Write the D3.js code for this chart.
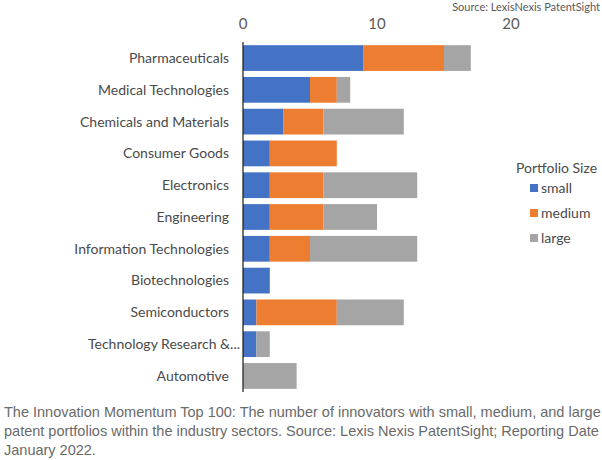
<!DOCTYPE html>
<html lang="en">
<head>
<meta charset="utf-8">
<title>Innovation Momentum Top 100</title>
<script src="https://d3js.org/d3.v7.min.js"></script>
<style>
  body { margin: 0; padding: 0; background: #fff; }
  svg { display: block; }
  .lato { font-family: Lato, "Open Sans", sans-serif; }
  .caption { font-family: "Liberation Sans", Arial, sans-serif; font-size: 14.5px; fill: #6a6a6a; }
</style>
</head>
<body>
<div id="chart"></div>
<script>
  // categories top to bottom
  const sectors = ["Pharmaceuticals", "Medical Technologies", "Chemicals and Materials",
    "Consumer Goods", "Electronics", "Engineering", "Information Technologies",
    "Biotechnologies", "Semiconductors", "Technology Research &...", "Automotive"];
  const small  = [9, 5, 3, 2, 2, 2, 2, 2, 1, 1, 0];
  const medium = [6, 2, 3, 5, 4, 4, 3, 0, 6, 0, 0];
  const large  = [2, 1, 6, 0, 7, 4, 8, 0, 5, 1, 4];
  const seriesNames = ["small", "medium", "large"];
  const colors = ["#4472c4", "#ed7d31", "#a5a5a5"];
  const xTicks = [0, 10, 20];

  const W = 602, H = 460;
  const svg = d3.select("#chart").append("svg").attr("width", W).attr("height", H);

  const rows = sectors.map((s, i) => ({ sector: s, small: small[i], medium: medium[i], large: large[i] }));
  const stacked = d3.stack().keys(seriesNames)(rows);

  const x = d3.scaleLinear().domain([0, 20]).range([243, 511]);
  const y = d3.scaleBand().domain(sectors).range([42, 392]).paddingInner(0.19).paddingOuter(0.1);

  // bars
  svg.append("g").selectAll("g")
    .data(stacked)
    .join("g")
    .attr("fill", (d, i) => colors[i])
    .selectAll("rect")
    .data(d => d)
    .join("rect")
    .attr("x", d => x(d[0]))
    .attr("y", d => y(d.data.sector))
    .attr("width", d => x(d[1]) - x(d[0]))
    .attr("height", y.bandwidth());

  // vertical axis line
  svg.append("line")
    .attr("x1", x(0)).attr("x2", x(0))
    .attr("y1", 42).attr("y2", 392)
    .attr("stroke", "#1a1a1a").attr("stroke-width", 1.2);

  // top tick labels
  svg.append("g").selectAll("text")
    .data(xTicks)
    .join("text")
    .attr("class", "lato")
    .attr("x", d => x(d))
    .attr("y", 29)
    .attr("text-anchor", "middle")
    .attr("font-size", 15)
    .attr("fill", "#595959")
    .text(d => d);

  // category labels (the truncated one runs a bit further right)
  svg.append("g").selectAll("text")
    .data(sectors)
    .join("text")
    .attr("class", "lato")
    .attr("x", d => d.endsWith("...") ? 240 : 229)
    .attr("y", d => y(d) + y.bandwidth() / 2)
    .attr("dy", "0.35em")
    .attr("text-anchor", "end")
    .attr("font-size", 14)
    .attr("fill", "#4a4a4a")
    .text(d => d);

  // source note
  svg.append("text")
    .attr("class", "lato")
    .attr("x", 600).attr("y", 11)
    .attr("text-anchor", "end")
    .attr("font-size", 11)
    .attr("fill", "#595959")
    .text("Source: LexisNexis PatentSight");

  // legend
  const legend = svg.append("g").attr("class", "lato");
  legend.append("text")
    .attr("x", 516).attr("y", 173)
    .attr("font-size", 14)
    .attr("fill", "#4a4a4a")
    .text("Portfolio Size");
  const items = legend.selectAll("g.item")
    .data(seriesNames)
    .join("g")
    .attr("class", "item")
    .attr("transform", (d, i) => `translate(530, ${188 + i * 25})`);
  items.append("rect")
    .attr("x", 0).attr("y", -4)
    .attr("width", 8).attr("height", 8)
    .attr("fill", (d, i) => colors[i]);
  items.append("text")
    .attr("x", 11).attr("y", 0)
    .attr("dy", "0.35em")
    .attr("font-size", 14)
    .attr("fill", "#4a4a4a")
    .text(d => d);

  // caption
  const captionLines = [
    "The Innovation Momentum Top 100: The number of innovators with small, medium, and large",
    "patent portfolios within the industry sectors. Source: Lexis Nexis PatentSight; Reporting Date",
    "January 2022."
  ];
  svg.append("g").selectAll("text")
    .data(captionLines)
    .join("text")
    .attr("class", "caption")
    .attr("x", 4)
    .attr("y", (d, i) => 417 + i * 19)
    .text(d => d);
</script>
</body>
</html>
